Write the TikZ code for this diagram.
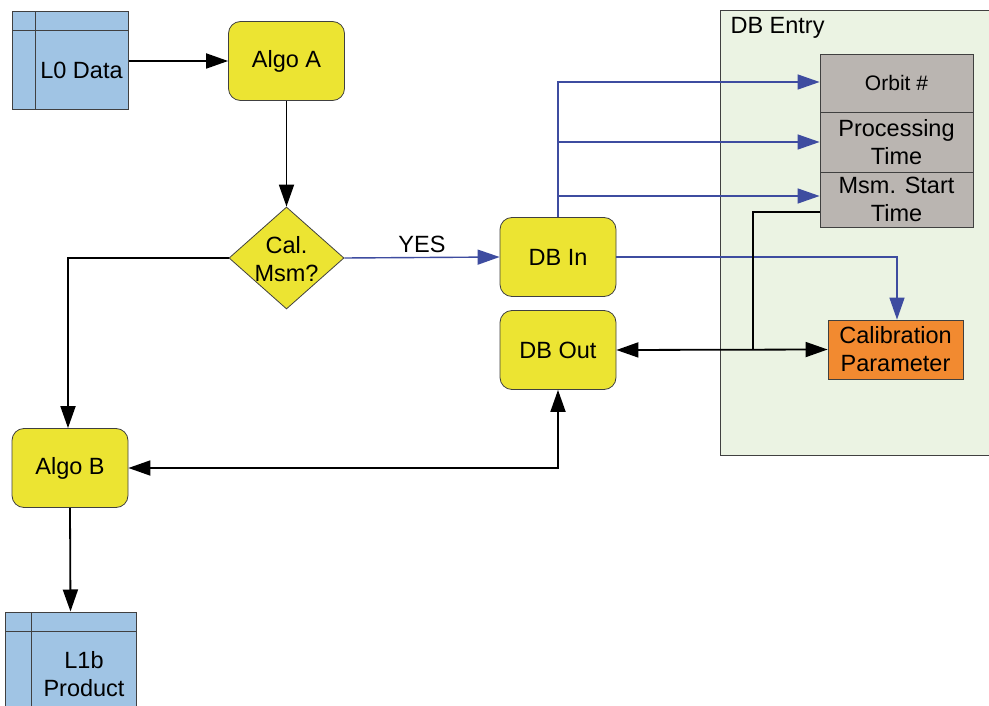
\documentclass[tikz,border=0pt]{standalone}
\usepackage{fontspec}
\setmainfont{Liberation Sans}
\usetikzlibrary{arrows.meta,shapes.geometric}
\definecolor{dbblue}{RGB}{160,196,228}
\definecolor{algoy}{RGB}{236,228,50}
\definecolor{lineblue}{RGB}{62,76,160}
\definecolor{entrygreen}{RGB}{235,243,227}
\definecolor{fieldgray}{RGB}{186,181,177}
\definecolor{calorange}{RGB}{242,138,48}
\begin{document}
\begin{tikzpicture}[x=1pt,y=-1pt,font=\fontsize{23.5}{28}\selectfont,
  algo/.style={draw=black!75,fill=algoy,rounded corners=12pt,minimum width=116pt,minimum height=79pt,line width=0.8pt,align=center,inner sep=0pt},
  store/.style={draw=black!75,fill=dbblue,line width=1pt,inner sep=0pt},
  field/.style={draw=black!75,fill=fieldgray,line width=0.8pt,minimum width=153pt,inner sep=0pt,align=center},
  blk/.style={line width=1.8pt,-{Triangle[length=22pt,width=15pt]}},
  dblk/.style={line width=1.8pt,{Triangle[length=22pt,width=15pt]}-{Triangle[length=22pt,width=15pt]}},
  plainblk/.style={line width=1.8pt},
  blu/.style={line width=1.4pt,draw=lineblue,-{Triangle[length=22pt,width=15pt,fill=lineblue]}},
  plainblu/.style={line width=1.4pt,draw=lineblue}]
\clip (0,0) rectangle (989,706);
\fill[white] (0,0) rectangle (989,706);

% DB Entry container
\node[draw=black!75,fill=entrygreen,line width=0.8pt,minimum width=290pt,minimum height=445pt,inner sep=0pt] (entry) at (865,232.5) {};
\node[anchor=west] (entrylbl) at (727,28) {DB Entry};

% Data stores
\node[store,minimum width=116pt,minimum height=98pt] (l0) at (70,61) {};
\draw[line width=1pt,black!75] (35,12) -- (35,110) (12,31) -- (128,31);
\node (l0t) at (81.5,70.5) {L0 Data};

\node[store,minimum width=131pt,minimum height=110pt] (l1b) at (70.5,667) {};
\draw[line width=1pt,black!75] (31,612) -- (31,722) (5,631) -- (136,631);
\node[align=center] (l1bt) at (84,674) {L1b\\Product};

% Algorithm boxes
\node[algo] (algoa) at (286.5,61) {Algo A};
\node[algo] (algob) at (70,468) {Algo B};
\node[algo] (dbin) at (558,257) {DB In};
\node[algo] (dbout) at (558,350) {DB Out};

% Decision
\node[diamond,draw=black!75,fill=algoy,line width=0.8pt,minimum width=115pt,minimum height=102pt,inner sep=0pt,aspect=1.13] (dec) at (286.5,258) {};
\node[align=center] (dect) at (286.5,259) {Cal.\\Msm?};

% DB fields
\node[field,minimum height=58pt,font=\fontsize{21}{25}\selectfont] (f1) at (896.5,83) {Orbit \#};
\node[field,minimum height=60pt] (f2) at (896.5,142) {Processing\\Time};
\node[field,minimum height=55pt] (f3) at (896.5,199.5) {Msm. Start\\Time};

% Calibration
\node[draw=black!75,fill=calorange,line width=0.8pt,minimum width=135pt,minimum height=59pt,inner sep=0pt,align=center] (cal) at (895.5,349.5) {Calibration\\Parameter};

% Connectors
\draw[blk] (l0.east |- algoa.west) -- (algoa.west);
\draw[blk] (algoa.south) -- (dec.north);
\draw[blu] (dec.east) -- node[above=1pt,text=black] (yes) {YES} (dbin.west);
\draw[blk] (dec.west) -| ([xshift=-2pt]algob.north);
\draw[blk] (algob.south) -- (l1b.north);
\draw[dblk] (algob.east) -| (dbout.south);

\draw[blu] (dbin.north) |- ([yshift=1pt]f1.west);
\draw[blu] (dbin.north |- f2.west) -- (f2.west);
\draw[blu] (dbin.north |- 0,196) -- (f3.west |- 0,196);
\draw[blu] (dbin.east) -| ([xshift=1.5pt]cal.north);

\coordinate (msout) at (f3.west |- 0,212);
\coordinate (join) at (753,350);
\draw[plainblk] (msout) -| (join);
\draw[dblk] (dbout.east) -- (cal.west);
\end{tikzpicture}
\end{document}
